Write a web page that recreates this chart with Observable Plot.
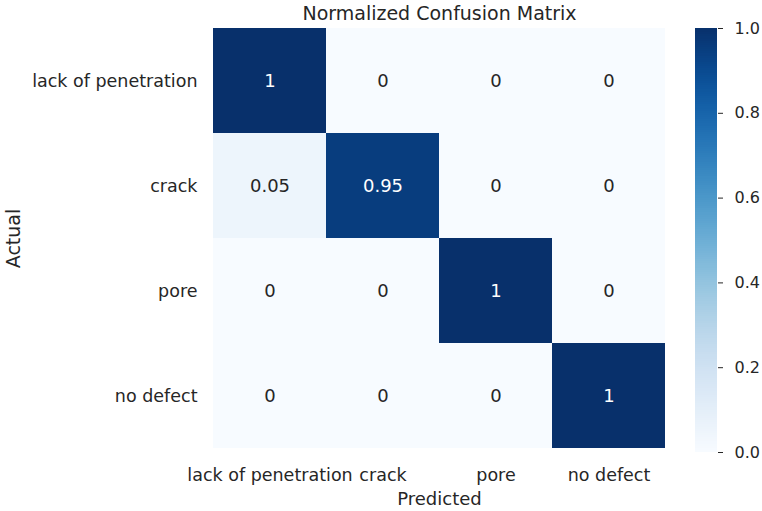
<!DOCTYPE html>
<html>
<head>
<meta charset="utf-8">
<script src="https://cdn.jsdelivr.net/npm/d3@7"></script>
<script src="https://cdn.jsdelivr.net/npm/@observablehq/plot@0.6"></script>
<style>
  html, body { margin: 0; padding: 0; background: #fff; }
  #wrap { position: relative; width: 762px; height: 511px; font-family: "DejaVu Sans", sans-serif; }
  #wrap svg { position: absolute; top: 0; }
</style>
</head>
<body>
<div id="wrap"></div>
<script>
// ---- data ----
const title = "Normalized Confusion Matrix";
const xLabel = "Predicted";
const yLabel = "Actual";
const classes = ["lack of penetration", "crack", "pore", "no defect"];
const rowLackOfPenetration = [1, 0, 0, 0];
const rowCrack = [0.05, 0.95, 0, 0];
const rowPore = [0, 0, 1, 0];
const rowNoDefect = [0, 0, 0, 1];
const colorbarTicks = [0, 0.2, 0.4, 0.6, 0.8, 1.0];

const matrix = [rowLackOfPenetration, rowCrack, rowPore, rowNoDefect];
const cells = [];
matrix.forEach((row, i) => row.forEach((v, j) => cells.push({actual: classes[i], predicted: classes[j], value: v})));

const textColor = "#262626";
const fmt = d3.format("~g");

const main = Plot.plot({
  width: 762,
  height: 511,
  marginTop: 27,
  marginBottom: 62,
  marginLeft: 212,
  marginRight: 96,
  style: {fontFamily: "DejaVu Sans, sans-serif", fontSize: "17.5px", color: textColor, background: "transparent"},
  x: {domain: classes, padding: 0, label: null, tickSize: 0, tickPadding: 19, axis: "bottom"},
  y: {domain: classes, padding: 0, label: null, tickSize: 0, tickPadding: 15},
  color: {type: "linear", scheme: "blues", domain: [0, 1]},
  marks: [
    Plot.cell(cells, {x: "predicted", y: "actual", fill: "value", inset: 0, shapeRendering: "crispEdges"}),
    Plot.text(cells, {x: "predicted", y: "actual", text: d => fmt(d.value),
      fill: d => d.value > 0.5 ? "white" : textColor, fontSize: 18}),
    Plot.text([title], {frameAnchor: "top", lineAnchor: "middle", textAnchor: "middle", dy: -14, fontSize: 19, fill: textColor}),
    Plot.text([xLabel], {frameAnchor: "bottom", lineAnchor: "middle", textAnchor: "middle", dy: 50, fontSize: 18, fill: textColor}),
    Plot.text([yLabel], {frameAnchor: "left", lineAnchor: "middle", textAnchor: "middle", dx: -199, rotate: -90, fontSize: 19, fill: textColor})
  ]
});

// colorbar
const step = 0.005;
const stops = d3.range(0, 1, step);
const bar = Plot.plot({
  width: 82,
  height: 511,
  marginTop: 28,
  marginBottom: 59,
  marginLeft: 15,
  marginRight: 45,
  style: {fontFamily: "DejaVu Sans, sans-serif", fontSize: "16px", color: textColor, background: "transparent"},
  x: {domain: [0, 1], axis: null},
  y: {domain: [0, 1], axis: "right", ticks: colorbarTicks, tickFormat: ".1f", tickSize: 5, tickPadding: 12, label: null},
  color: {type: "linear", scheme: "blues", domain: [0, 1]},
  marks: [
    Plot.rect(stops, {x1: () => 0, x2: () => 1, y1: d => d, y2: d => Math.min(1, d + step * 1.5), fill: d => d + step / 2, shapeRendering: "crispEdges"})
  ]
});

const wrap = document.getElementById("wrap");
main.style.left = "0px";
bar.style.left = "680px";
wrap.appendChild(main);
wrap.appendChild(bar);
</script>
</body>
</html>
